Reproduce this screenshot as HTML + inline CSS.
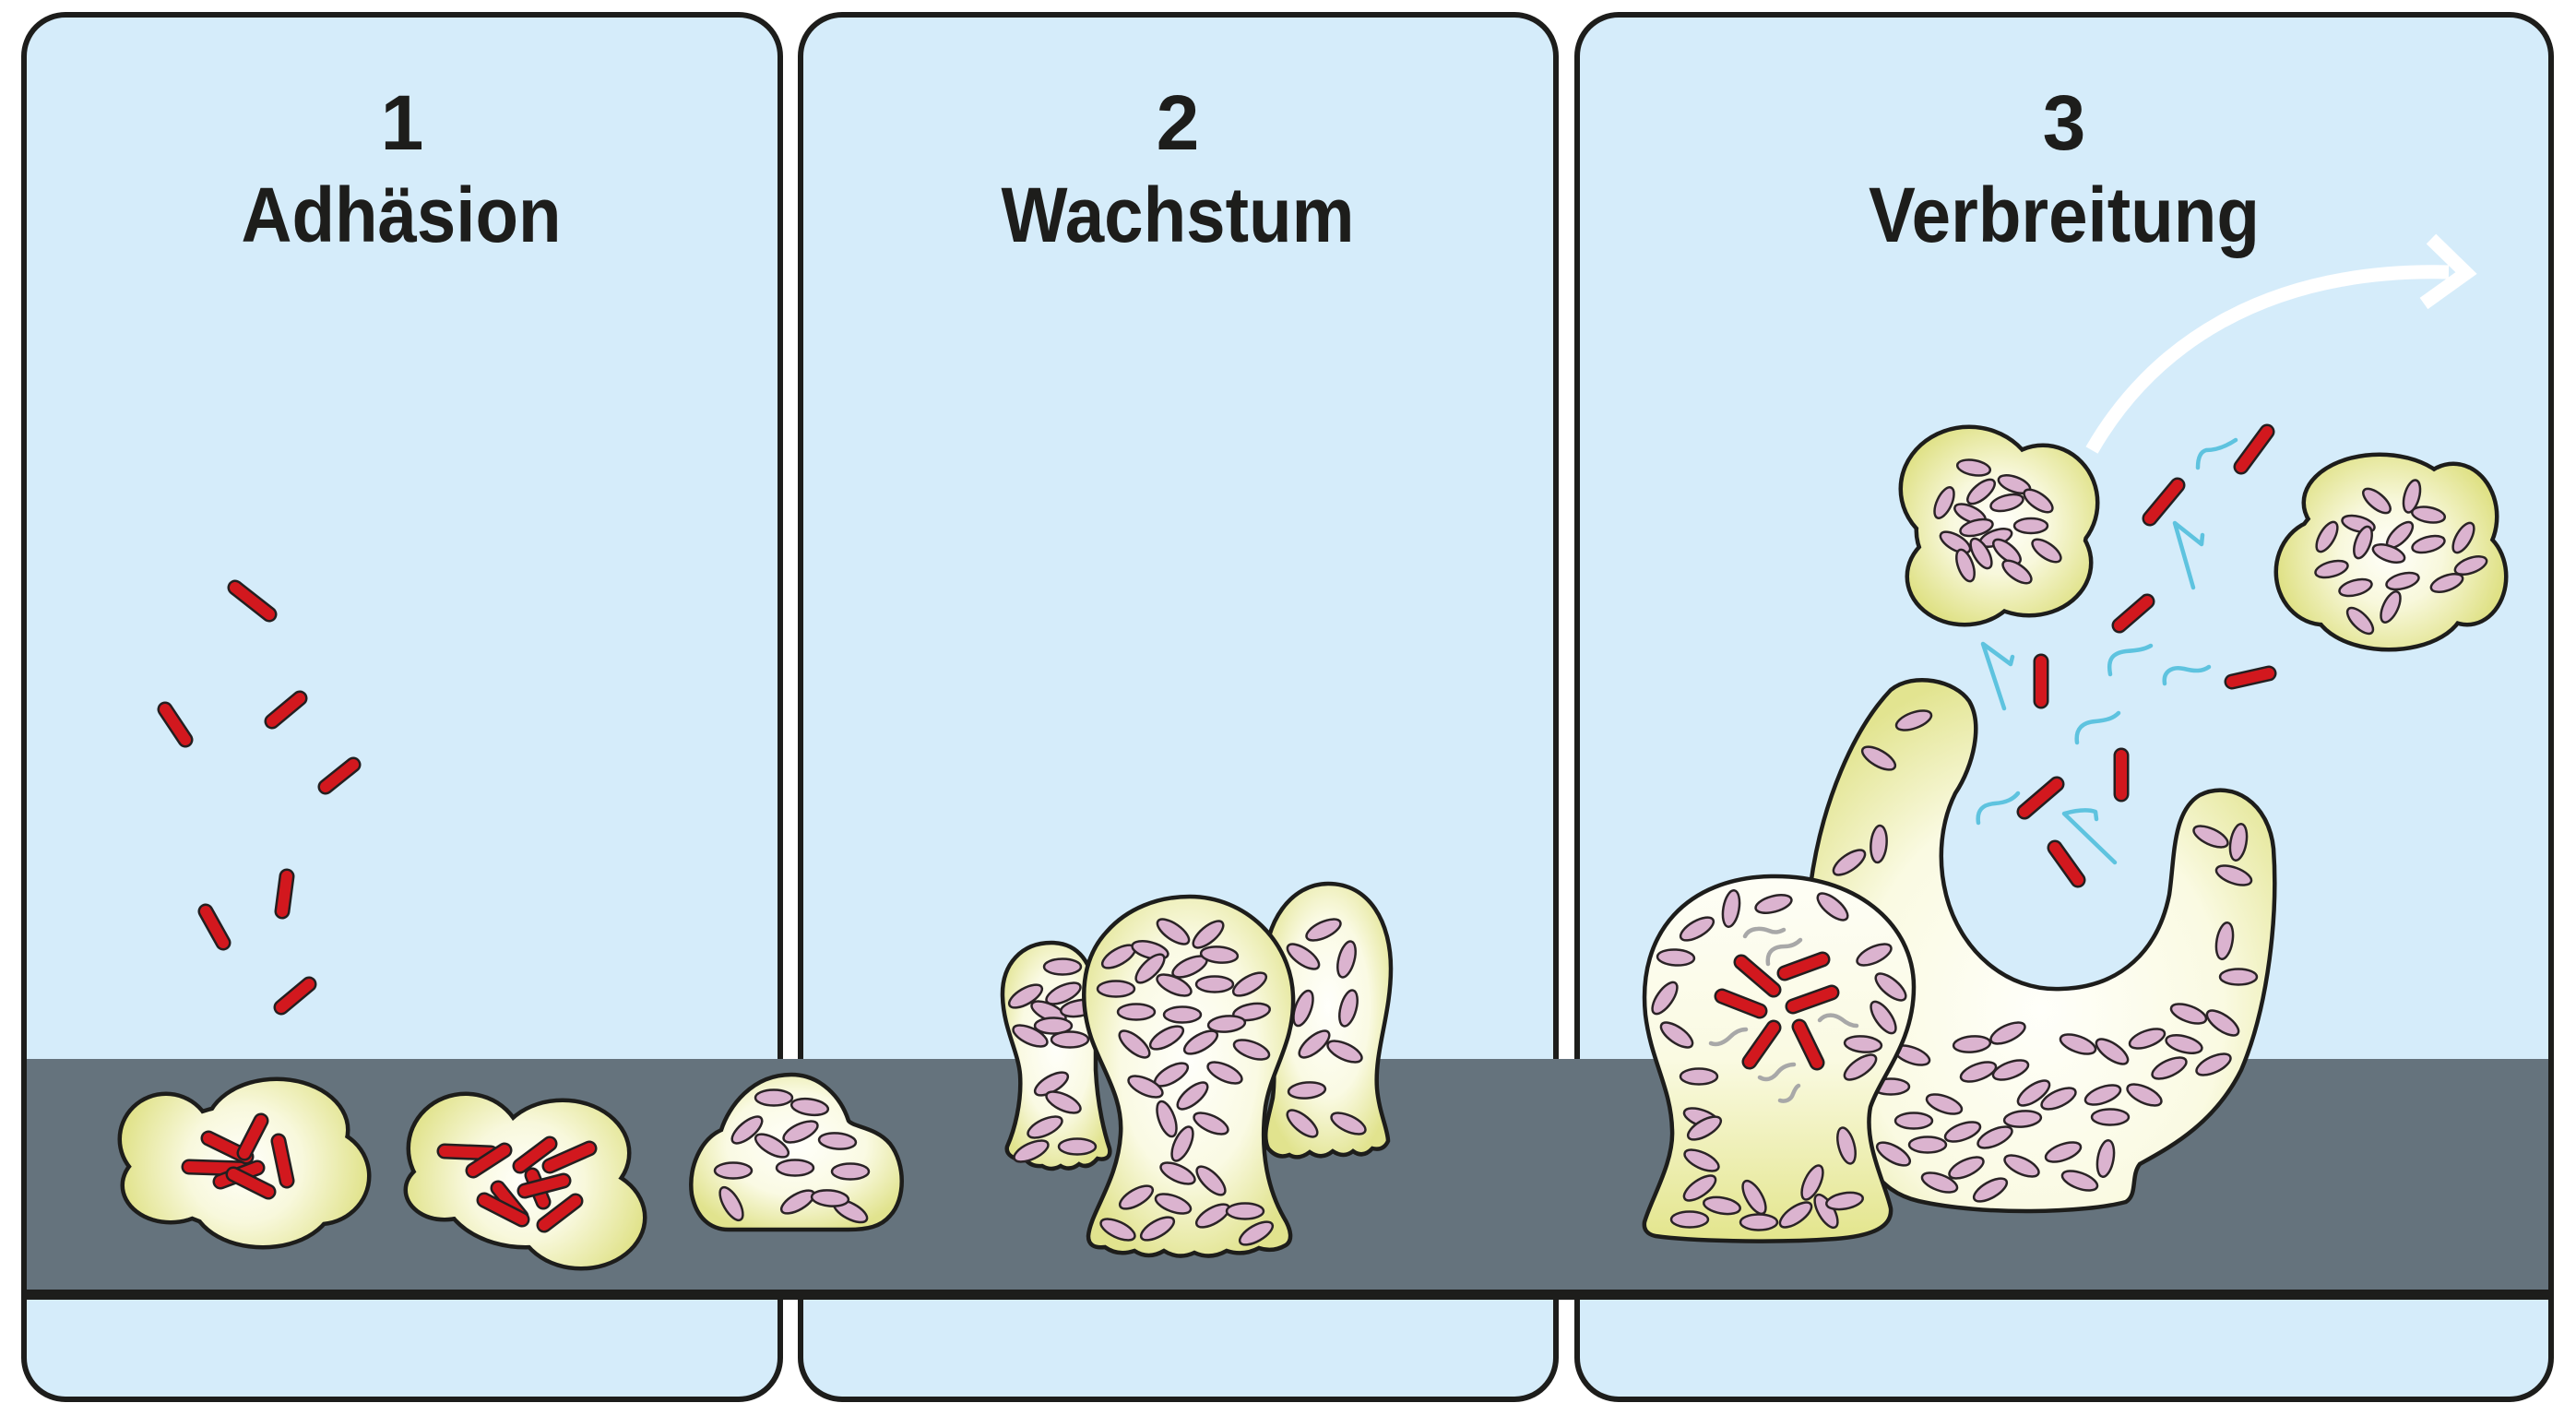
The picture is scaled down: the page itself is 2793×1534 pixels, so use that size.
<!DOCTYPE html>
<html><head><meta charset="utf-8"><style>
html,body{margin:0;padding:0;background:#fff;}
svg{display:block;}
.o{stroke:#231f20;stroke-width:17;stroke-linecap:round;fill:none}
.f{stroke:#d2181e;stroke-width:12;stroke-linecap:round;fill:none}
.bl{stroke:#5ec3df;stroke-width:4.5;fill:none;stroke-linecap:round;stroke-linejoin:round}
.gr{stroke:#a8a8a8;stroke-width:4.5;fill:none;stroke-linecap:round}
.t{font-family:"Liberation Sans",Arial,sans-serif;font-weight:bold;fill:#1d1d1b;text-anchor:middle}
</style></head><body>
<svg width="2793" height="1534" viewBox="0 0 2793 1534" xmlns="http://www.w3.org/2000/svg">
<defs>
<ellipse id="e" rx="20" ry="8.5" fill="#dbb3cf" stroke="#2a2326" stroke-width="2.5"/>
<ellipse id="es" rx="18" ry="8" fill="#dbb3cf" stroke="#2a2326" stroke-width="2.5"/>
<radialGradient id="gb1" gradientUnits="userSpaceOnUse" cx="265" cy="1262" r="140"><stop offset="0" stop-color="#fffffb"/><stop offset=".45" stop-color="#f8f8dc"/><stop offset="1" stop-color="#dfe185"/></radialGradient>
<radialGradient id="gb2" gradientUnits="userSpaceOnUse" cx="570" cy="1280" r="140"><stop offset="0" stop-color="#fffffb"/><stop offset=".45" stop-color="#f8f8dc"/><stop offset="1" stop-color="#dfe185"/></radialGradient>
<radialGradient id="gBL" gradientUnits="userSpaceOnUse" cx="2168" cy="568" r="120"><stop offset="0" stop-color="#fffffb"/><stop offset=".45" stop-color="#f8f8dc"/><stop offset="1" stop-color="#dfe185"/></radialGradient>
<radialGradient id="gBR" gradientUnits="userSpaceOnUse" cx="2592" cy="600" r="125"><stop offset="0" stop-color="#fffffb"/><stop offset=".45" stop-color="#f8f8dc"/><stop offset="1" stop-color="#dfe185"/></radialGradient>
<radialGradient id="gObj" cx=".5" cy=".45" r=".6"><stop offset="0" stop-color="#fffffb"/><stop offset=".55" stop-color="#fafae3"/><stop offset="1" stop-color="#e1e38e"/></radialGradient>
<radialGradient id="gU" cx=".5" cy=".62" r=".65"><stop offset="0" stop-color="#fffffa"/><stop offset=".6" stop-color="#fafae2"/><stop offset="1" stop-color="#e2e490"/></radialGradient>
<linearGradient id="gF" x1="0" y1="0" x2="0" y2="1"><stop offset="0" stop-color="#fefef6"/><stop offset=".5" stop-color="#fafae2"/><stop offset="1" stop-color="#e3e58c"/></linearGradient>
</defs>

<!-- panels -->
<rect x="26" y="16" width="820" height="1501" rx="45" fill="#d5ecfa" stroke="#1d1d1b" stroke-width="6"/>
<rect x="868" y="16" width="819" height="1501" rx="45" fill="#d5ecfa" stroke="#1d1d1b" stroke-width="6"/>
<rect x="1710" y="16" width="1056" height="1501" rx="45" fill="#d5ecfa" stroke="#1d1d1b" stroke-width="6"/>

<!-- ground -->
<rect x="26" y="1148" width="2740" height="250" fill="#65737d"/>
<rect x="23" y="1398" width="2746" height="11" fill="#1d1d1b"/>
<line x1="26" y1="1140" x2="26" y2="1410" stroke="#1d1d1b" stroke-width="6"/>
<line x1="2766" y1="1140" x2="2766" y2="1410" stroke="#1d1d1b" stroke-width="6"/>

<!-- titles -->
<text class="t" x="436" y="162" font-size="84">1</text>
<text class="t" x="435" y="262" font-size="84" textLength="347" lengthAdjust="spacingAndGlyphs">Adhäsion</text>
<text class="t" x="1277" y="162" font-size="84">2</text>
<text class="t" x="1277" y="262" font-size="84" textLength="383" lengthAdjust="spacingAndGlyphs">Wachstum</text>
<text class="t" x="2238" y="162" font-size="84">3</text>
<text class="t" x="2238" y="262" font-size="84" textLength="424" lengthAdjust="spacingAndGlyphs">Verbreitung</text>

<!-- ===== Panel 1 ===== -->
<line class="o" x1="255" y1="637" x2="292" y2="666"/><line class="f" x1="255" y1="637" x2="292" y2="666"/>
<line class="o" x1="179" y1="769" x2="201" y2="802"/><line class="f" x1="179" y1="769" x2="201" y2="802"/>
<line class="o" x1="295" y1="782" x2="325" y2="757"/><line class="f" x1="295" y1="782" x2="325" y2="757"/>
<line class="o" x1="353" y1="853" x2="383" y2="829"/><line class="f" x1="353" y1="853" x2="383" y2="829"/>
<line class="o" x1="311" y1="950" x2="306" y2="988"/><line class="f" x1="311" y1="950" x2="306" y2="988"/>
<line class="o" x1="223" y1="988" x2="242" y2="1022"/><line class="f" x1="223" y1="988" x2="242" y2="1022"/>
<line class="o" x1="305" y1="1092" x2="335" y2="1067"/><line class="f" x1="305" y1="1092" x2="335" y2="1067"/>

<!-- blob 1 -->
<g fill="none" stroke="#1d1d1b" stroke-width="9">
<ellipse cx="180" cy="1235" rx="48" ry="47"/><ellipse cx="300" cy="1225" rx="75" ry="53"/><ellipse cx="345" cy="1275" rx="53" ry="50"/><ellipse cx="285" cy="1300" rx="75" ry="50"/><ellipse cx="185" cy="1285" rx="50" ry="38"/><ellipse cx="265" cy="1265" rx="100" ry="65"/>
</g>
<g fill="url(#gb1)">
<ellipse cx="180" cy="1235" rx="48" ry="47"/><ellipse cx="300" cy="1225" rx="75" ry="53"/><ellipse cx="345" cy="1275" rx="53" ry="50"/><ellipse cx="285" cy="1300" rx="75" ry="50"/><ellipse cx="185" cy="1285" rx="50" ry="38"/><ellipse cx="265" cy="1265" rx="100" ry="65"/>
</g>
<line class="o" x1="205" y1="1265" x2="266" y2="1267"/><line class="f" x1="205" y1="1265" x2="266" y2="1267"/>
<line class="o" x1="226" y1="1234" x2="267" y2="1254"/><line class="f" x1="226" y1="1234" x2="267" y2="1254"/>
<line class="o" x1="283" y1="1215" x2="265" y2="1250"/><line class="f" x1="283" y1="1215" x2="265" y2="1250"/>
<line class="o" x1="302" y1="1237" x2="311" y2="1280"/><line class="f" x1="302" y1="1237" x2="311" y2="1280"/>
<line class="o" x1="239" y1="1281" x2="279" y2="1266"/><line class="f" x1="239" y1="1281" x2="279" y2="1266"/>
<line class="o" x1="253" y1="1273" x2="291" y2="1292"/><line class="f" x1="253" y1="1273" x2="291" y2="1292"/>

<!-- blob 2 -->
<g fill="none" stroke="#1d1d1b" stroke-width="9">
<ellipse cx="505" cy="1245" rx="60" ry="57"/><ellipse cx="610" cy="1250" rx="70" ry="55"/><ellipse cx="630" cy="1320" rx="67" ry="53"/><ellipse cx="482" cy="1290" rx="40" ry="30"/><ellipse cx="570" cy="1285" rx="90" ry="65"/>
</g>
<g fill="url(#gb2)">
<ellipse cx="505" cy="1245" rx="60" ry="57"/><ellipse cx="610" cy="1250" rx="70" ry="55"/><ellipse cx="630" cy="1320" rx="67" ry="53"/><ellipse cx="482" cy="1290" rx="40" ry="30"/><ellipse cx="570" cy="1285" rx="90" ry="65"/>
</g>
<line class="o" x1="482" y1="1248" x2="532" y2="1250"/><line class="f" x1="482" y1="1248" x2="532" y2="1250"/>
<line class="o" x1="513" y1="1269" x2="547" y2="1247"/><line class="f" x1="513" y1="1269" x2="547" y2="1247"/>
<line class="o" x1="564" y1="1264" x2="596" y2="1240"/><line class="f" x1="564" y1="1264" x2="596" y2="1240"/>
<line class="o" x1="596" y1="1264" x2="639" y2="1245"/><line class="f" x1="596" y1="1264" x2="639" y2="1245"/>
<line class="o" x1="577" y1="1274" x2="589" y2="1303"/><line class="f" x1="577" y1="1274" x2="589" y2="1303"/>
<line class="o" x1="540" y1="1288" x2="565" y2="1319"/><line class="f" x1="540" y1="1288" x2="565" y2="1319"/>
<line class="o" x1="525" y1="1301" x2="566" y2="1322"/><line class="f" x1="525" y1="1301" x2="566" y2="1322"/>
<line class="o" x1="569" y1="1291" x2="611" y2="1280"/><line class="f" x1="569" y1="1291" x2="611" y2="1280"/>
<line class="o" x1="590" y1="1328" x2="624" y2="1302"/><line class="f" x1="590" y1="1328" x2="624" y2="1302"/>

<!-- blob 3 (bell) -->
<path d="M858,1165 C890,1165 912,1190 920,1215 C925,1222 950,1222 965,1240 C982,1262 982,1300 965,1318 C955,1330 940,1333 920,1333 L790,1333 C770,1333 755,1320 750,1295 C746,1265 760,1235 782,1225 C790,1200 815,1165 858,1165 Z" fill="url(#gObj)" stroke="#1d1d1b" stroke-width="4.5"/>
<use href="#e" transform="translate(839,1190) rotate(0)"/>
<use href="#e" transform="translate(878,1200) rotate(8)"/>
<use href="#e" transform="translate(810,1225) rotate(-40)"/>
<use href="#e" transform="translate(868,1227) rotate(-25)"/>
<use href="#e" transform="translate(837,1242) rotate(30)"/>
<use href="#e" transform="translate(908,1237) rotate(5)"/>
<use href="#e" transform="translate(795,1269) rotate(0)"/>
<use href="#e" transform="translate(862,1266) rotate(0)"/>
<use href="#e" transform="translate(922,1270) rotate(0)"/>
<use href="#e" transform="translate(793,1305) rotate(60)"/>
<use href="#e" transform="translate(865,1303) rotate(-30)"/>
<use href="#e" transform="translate(922,1313) rotate(28)"/>
<use href="#e" transform="translate(900,1299) rotate(5)"/>

<!-- ===== Panel 2 ===== -->
<path d="M1092,1243 C1100,1225 1108,1195 1106,1165 C1104,1140 1088,1115 1087,1080 C1086,1045 1108,1022 1140,1022 C1170,1022 1185,1045 1188,1080 L1188,1160 C1190,1200 1198,1230 1203,1245 C1205,1255 1198,1258 1190,1256 Q1180,1268 1170,1262 Q1160,1270 1150,1264 Q1140,1270 1130,1264 Q1118,1265 1112,1257 C1100,1258 1090,1252 1092,1243 Z" fill="url(#gObj)" stroke="#1d1d1b" stroke-width="4.5"/>
<use href="#e" transform="translate(1152,1048) rotate(0)"/>
<use href="#e" transform="translate(1112,1080) rotate(-30)"/>
<use href="#e" transform="translate(1153,1077) rotate(-25)"/>
<use href="#e" transform="translate(1137,1097) rotate(25)"/>
<use href="#e" transform="translate(1170,1093) rotate(-10)"/>
<use href="#e" transform="translate(1142,1112) rotate(0)"/>
<use href="#e" transform="translate(1117,1123) rotate(25)"/>
<use href="#e" transform="translate(1160,1127) rotate(0)"/>
<use href="#e" transform="translate(1140,1175) rotate(-30)"/>
<use href="#e" transform="translate(1153,1195) rotate(25)"/>
<use href="#e" transform="translate(1133,1222) rotate(-25)"/>
<use href="#e" transform="translate(1168,1243) rotate(0)"/>
<use href="#e" transform="translate(1118,1248) rotate(-25)"/>
<path d="M1440,958 C1485,958 1508,1000 1508,1050 C1508,1100 1490,1140 1493,1180 C1495,1205 1505,1225 1505,1237 Q1500,1248 1488,1245 Q1478,1256 1467,1248 Q1457,1256 1445,1248 Q1433,1258 1420,1249 Q1408,1258 1398,1252 Q1385,1257 1375,1245 C1368,1230 1376,1210 1380,1190 C1385,1150 1375,1100 1372,1050 C1370,1000 1400,958 1440,958 Z" fill="url(#gObj)" stroke="#1d1d1b" stroke-width="4.5"/>
<use href="#e" transform="translate(1435,1008) rotate(-25)"/>
<use href="#e" transform="translate(1413,1037) rotate(35)"/>
<use href="#e" transform="translate(1460,1040) rotate(-75)"/>
<use href="#e" transform="translate(1413,1093) rotate(-70)"/>
<use href="#e" transform="translate(1462,1093) rotate(-75)"/>
<use href="#e" transform="translate(1425,1132) rotate(-40)"/>
<use href="#e" transform="translate(1458,1140) rotate(25)"/>
<use href="#e" transform="translate(1417,1182) rotate(-5)"/>
<use href="#e" transform="translate(1412,1218) rotate(40)"/>
<use href="#e" transform="translate(1462,1218) rotate(25)"/>
<path d="M1290,972 C1350,972 1400,1020 1402,1080 C1404,1130 1378,1160 1372,1200 C1366,1250 1375,1290 1392,1320 C1400,1333 1402,1345 1394,1350 Q1380,1358 1365,1353 Q1348,1362 1330,1356 Q1312,1366 1295,1358 Q1278,1366 1262,1356 Q1245,1366 1230,1356 Q1212,1362 1198,1352 Q1180,1354 1180,1340 C1182,1315 1212,1280 1215,1230 C1218,1190 1195,1160 1183,1125 C1170,1085 1172,1040 1200,1010 C1222,985 1255,972 1290,972 Z" fill="url(#gObj)" stroke="#1d1d1b" stroke-width="4.5"/>
<use href="#e" transform="translate(1272,1010) rotate(35)"/>
<use href="#e" transform="translate(1310,1013) rotate(-40)"/>
<use href="#e" transform="translate(1213,1037) rotate(-30)"/>
<use href="#e" transform="translate(1247,1030) rotate(15)"/>
<use href="#e" transform="translate(1247,1050) rotate(-45)"/>
<use href="#e" transform="translate(1290,1048) rotate(-25)"/>
<use href="#e" transform="translate(1322,1035) rotate(5)"/>
<use href="#e" transform="translate(1273,1068) rotate(25)"/>
<use href="#e" transform="translate(1317,1067) rotate(0)"/>
<use href="#e" transform="translate(1355,1067) rotate(-30)"/>
<use href="#e" transform="translate(1210,1072) rotate(0)"/>
<use href="#e" transform="translate(1232,1097) rotate(0)"/>
<use href="#e" transform="translate(1282,1100) rotate(0)"/>
<use href="#e" transform="translate(1357,1097) rotate(-10)"/>
<use href="#e" transform="translate(1330,1110) rotate(-5)"/>
<use href="#e" transform="translate(1230,1132) rotate(40)"/>
<use href="#e" transform="translate(1265,1125) rotate(-30)"/>
<use href="#e" transform="translate(1302,1130) rotate(-30)"/>
<use href="#e" transform="translate(1357,1138) rotate(20)"/>
<use href="#e" transform="translate(1270,1165) rotate(-30)"/>
<use href="#e" transform="translate(1328,1163) rotate(25)"/>
<use href="#e" transform="translate(1242,1178) rotate(25)"/>
<use href="#e" transform="translate(1293,1188) rotate(-40)"/>
<use href="#e" transform="translate(1265,1213) rotate(70)"/>
<use href="#e" transform="translate(1313,1218) rotate(25)"/>
<use href="#e" transform="translate(1282,1240) rotate(-65)"/>
<use href="#e" transform="translate(1277,1272) rotate(25)"/>
<use href="#e" transform="translate(1313,1280) rotate(45)"/>
<use href="#e" transform="translate(1232,1298) rotate(-30)"/>
<use href="#e" transform="translate(1272,1305) rotate(20)"/>
<use href="#e" transform="translate(1315,1318) rotate(-30)"/>
<use href="#e" transform="translate(1350,1313) rotate(0)"/>
<use href="#e" transform="translate(1212,1333) rotate(25)"/>
<use href="#e" transform="translate(1255,1332) rotate(-30)"/>
<use href="#e" transform="translate(1362,1337) rotate(-30)"/>

<!-- ===== Panel 3 ===== -->
<path d="M2268,488 C2330,380 2450,290 2655,295" stroke="#fff" stroke-width="15" fill="none"/>
<polyline points="2636,259 2674,296 2628,329" stroke="#fff" stroke-width="15" fill="none" stroke-linejoin="miter"/>

<g fill="none" stroke="#1d1d1b" stroke-width="9">
<ellipse cx="2135" cy="530" rx="72" ry="65"/><ellipse cx="2215" cy="545" rx="57" ry="60"/><ellipse cx="2130" cy="625" rx="60" ry="50"/><ellipse cx="2200" cy="610" rx="65" ry="55"/><ellipse cx="2170" cy="575" rx="90" ry="70"/>
</g>
<g fill="url(#gBL)">
<ellipse cx="2135" cy="530" rx="72" ry="65"/><ellipse cx="2215" cy="545" rx="57" ry="60"/><ellipse cx="2130" cy="625" rx="60" ry="50"/><ellipse cx="2200" cy="610" rx="65" ry="55"/><ellipse cx="2170" cy="575" rx="90" ry="70"/>
</g>
<use href="#es" transform="translate(2140,507) rotate(10)"/>
<use href="#es" transform="translate(2108,545) rotate(-65)"/>
<use href="#es" transform="translate(2148,533) rotate(-40)"/>
<use href="#es" transform="translate(2184,525) rotate(20)"/>
<use href="#es" transform="translate(2176,545) rotate(-15)"/>
<use href="#es" transform="translate(2210,543) rotate(35)"/>
<use href="#es" transform="translate(2136,557) rotate(25)"/>
<use href="#es" transform="translate(2143,572) rotate(-15)"/>
<use href="#es" transform="translate(2202,570) rotate(0)"/>
<use href="#es" transform="translate(2120,588) rotate(30)"/>
<use href="#es" transform="translate(2164,583) rotate(-20)"/>
<use href="#es" transform="translate(2148,600) rotate(60)"/>
<use href="#es" transform="translate(2176,598) rotate(40)"/>
<use href="#es" transform="translate(2219,597) rotate(35)"/>
<use href="#es" transform="translate(2131,613) rotate(70)"/>
<use href="#es" transform="translate(2187,620) rotate(35)"/>

<g fill="none" stroke="#1d1d1b" stroke-width="9">
<ellipse cx="2580" cy="545" rx="80" ry="50"/><ellipse cx="2660" cy="560" rx="45" ry="55"/><ellipse cx="2520" cy="620" rx="50" ry="55"/><ellipse cx="2675" cy="625" rx="40" ry="50"/><ellipse cx="2590" cy="655" rx="80" ry="47"/><ellipse cx="2590" cy="600" rx="100" ry="70"/>
</g>
<g fill="url(#gBR)">
<ellipse cx="2580" cy="545" rx="80" ry="50"/><ellipse cx="2660" cy="560" rx="45" ry="55"/><ellipse cx="2520" cy="620" rx="50" ry="55"/><ellipse cx="2675" cy="625" rx="40" ry="50"/><ellipse cx="2590" cy="655" rx="80" ry="47"/><ellipse cx="2590" cy="600" rx="100" ry="70"/>
</g>
<use href="#es" transform="translate(2577,543) rotate(40)"/>
<use href="#es" transform="translate(2615,538) rotate(-75)"/>
<use href="#es" transform="translate(2633,558) rotate(10)"/>
<use href="#es" transform="translate(2557,568) rotate(15)"/>
<use href="#es" transform="translate(2523,582) rotate(-60)"/>
<use href="#es" transform="translate(2562,588) rotate(-70)"/>
<use href="#es" transform="translate(2602,580) rotate(-45)"/>
<use href="#es" transform="translate(2633,590) rotate(-15)"/>
<use href="#es" transform="translate(2671,583) rotate(-60)"/>
<use href="#es" transform="translate(2590,600) rotate(20)"/>
<use href="#es" transform="translate(2528,617) rotate(-15)"/>
<use href="#es" transform="translate(2679,613) rotate(-20)"/>
<use href="#es" transform="translate(2605,630) rotate(-15)"/>
<use href="#es" transform="translate(2653,632) rotate(-20)"/>
<use href="#es" transform="translate(2554,637) rotate(-15)"/>
<use href="#es" transform="translate(2592,658) rotate(-65)"/>
<use href="#es" transform="translate(2559,673) rotate(45)"/>

<!-- U structure -->
<path d="M1963,960 C1975,870 2010,790 2050,748 C2075,728 2120,738 2135,760 C2150,785 2140,830 2120,860 C2105,890 2100,930 2110,970 C2125,1030 2175,1075 2235,1072 C2300,1070 2340,1030 2352,970 C2358,930 2355,880 2385,862 C2420,845 2460,870 2465,920 C2470,990 2460,1090 2430,1160 C2400,1220 2350,1245 2320,1262 C2310,1275 2318,1295 2305,1303 C2260,1315 2150,1318 2080,1302 C2050,1295 2040,1280 2020,1260 L1960,1200 Z" fill="url(#gU)" stroke="#1d1d1b" stroke-width="4.5"/>
<use href="#e" transform="translate(2075,781) rotate(-20)"/>
<use href="#e" transform="translate(2037,822) rotate(30)"/>
<use href="#e" transform="translate(2037,915) rotate(-85)"/>
<use href="#e" transform="translate(2005,935) rotate(-35)"/>
<use href="#e" transform="translate(2397,907) rotate(25)"/>
<use href="#e" transform="translate(2427,913) rotate(-80)"/>
<use href="#e" transform="translate(2422,949) rotate(20)"/>
<use href="#e" transform="translate(2412,1020) rotate(-80)"/>
<use href="#e" transform="translate(2427,1059) rotate(0)"/>
<use href="#e" transform="translate(2373,1099) rotate(20)"/>
<use href="#e" transform="translate(2410,1109) rotate(35)"/>
<use href="#e" transform="translate(2138,1132) rotate(-5)"/>
<use href="#e" transform="translate(2177,1120) rotate(-25)"/>
<use href="#e" transform="translate(2253,1132) rotate(20)"/>
<use href="#e" transform="translate(2290,1140) rotate(35)"/>
<use href="#e" transform="translate(2328,1126) rotate(-20)"/>
<use href="#e" transform="translate(2368,1132) rotate(15)"/>
<use href="#e" transform="translate(2400,1154) rotate(-25)"/>
<use href="#e" transform="translate(2352,1158) rotate(-25)"/>
<use href="#e" transform="translate(2145,1162) rotate(-20)"/>
<use href="#e" transform="translate(2180,1160) rotate(-20)"/>
<use href="#e" transform="translate(2073,1144) rotate(20)"/>
<use href="#e" transform="translate(2050,1178) rotate(0)"/>
<use href="#e" transform="translate(2205,1185) rotate(-35)"/>
<use href="#e" transform="translate(2232,1191) rotate(-25)"/>
<use href="#e" transform="translate(2280,1187) rotate(-20)"/>
<use href="#e" transform="translate(2325,1187) rotate(25)"/>
<use href="#e" transform="translate(2108,1197) rotate(20)"/>
<use href="#e" transform="translate(2193,1213) rotate(-5)"/>
<use href="#e" transform="translate(2288,1211) rotate(0)"/>
<use href="#e" transform="translate(2075,1215) rotate(0)"/>
<use href="#e" transform="translate(2128,1227) rotate(-20)"/>
<use href="#e" transform="translate(2163,1233) rotate(-25)"/>
<use href="#e" transform="translate(2090,1241) rotate(0)"/>
<use href="#e" transform="translate(2053,1251) rotate(30)"/>
<use href="#e" transform="translate(2132,1266) rotate(-25)"/>
<use href="#e" transform="translate(2192,1264) rotate(25)"/>
<use href="#e" transform="translate(2237,1249) rotate(-20)"/>
<use href="#e" transform="translate(2283,1256) rotate(-80)"/>
<use href="#e" transform="translate(2103,1282) rotate(20)"/>
<use href="#e" transform="translate(2158,1290) rotate(-30)"/>
<use href="#e" transform="translate(2255,1280) rotate(20)"/>

<!-- sky rods -->
<line class="o" x1="2458" y1="468" x2="2430" y2="506"/><line class="f" x1="2458" y1="468" x2="2430" y2="506"/>
<line class="o" x1="2361" y1="526" x2="2331" y2="562"/><line class="f" x1="2361" y1="526" x2="2331" y2="562"/>
<line class="o" x1="2328" y1="652" x2="2298" y2="678"/><line class="f" x1="2328" y1="652" x2="2298" y2="678"/>
<line class="o" x1="2213" y1="717" x2="2213" y2="760"/><line class="f" x1="2213" y1="717" x2="2213" y2="760"/>
<line class="o" x1="2460" y1="730" x2="2420" y2="739"/><line class="f" x1="2460" y1="730" x2="2420" y2="739"/>
<line class="o" x1="2300" y1="819" x2="2300" y2="861"/><line class="f" x1="2300" y1="819" x2="2300" y2="861"/>
<line class="o" x1="2230" y1="850" x2="2195" y2="880"/><line class="f" x1="2230" y1="850" x2="2195" y2="880"/>
<line class="o" x1="2228" y1="919" x2="2253" y2="954"/><line class="f" x1="2228" y1="919" x2="2253" y2="954"/>

<!-- blue squiggles -->
<path class="bl" d="M2424,477 C2412,485 2402,488 2392,488 C2385,490 2383,498 2383,507"/>
<path class="bl" d="M2378,637 L2358,567 L2387,590 L2388,580"/>
<path class="bl" d="M2173,768 L2150,698 L2180,720 L2182,712"/>
<path class="bl" d="M2288,731 C2285,715 2290,708 2305,706 C2318,705 2325,704 2332,700"/>
<path class="bl" d="M2347,741 C2345,728 2355,722 2368,725 C2380,728 2388,728 2395,723"/>
<path class="bl" d="M2252,805 C2250,790 2258,783 2272,782 C2285,781 2292,778 2297,773"/>
<path class="bl" d="M2145,892 C2143,878 2150,872 2163,871 C2176,870 2183,866 2188,860"/>
<path class="bl" d="M2293,935 L2238,882 Q2260,876 2272,880 L2273,888"/>

<!-- front mushroom -->
<path d="M1783,1325 C1790,1300 1815,1260 1813,1225 C1812,1180 1790,1150 1784,1100 C1775,1010 1830,952 1920,950 C2010,948 2075,1000 2075,1070 C2075,1130 2040,1165 2028,1200 C2020,1240 2045,1285 2050,1310 C2052,1330 2030,1340 1990,1343 C1920,1348 1830,1345 1795,1340 C1785,1338 1782,1332 1783,1325 Z" fill="url(#gF)" stroke="#1d1d1b" stroke-width="4.5"/>
<use href="#e" transform="translate(1877,985) rotate(-80)"/>
<use href="#e" transform="translate(1923,980) rotate(-15)"/>
<use href="#e" transform="translate(1987,983) rotate(40)"/>
<use href="#e" transform="translate(1840,1007) rotate(-30)"/>
<use href="#e" transform="translate(1817,1038) rotate(3)"/>
<use href="#e" transform="translate(2032,1035) rotate(-25)"/>
<use href="#e" transform="translate(1805,1082) rotate(-55)"/>
<use href="#e" transform="translate(2050,1070) rotate(40)"/>
<use href="#e" transform="translate(1818,1122) rotate(35)"/>
<use href="#e" transform="translate(2042,1103) rotate(55)"/>
<use href="#e" transform="translate(2020,1132) rotate(5)"/>
<use href="#e" transform="translate(2017,1157) rotate(-35)"/>
<use href="#e" transform="translate(1842,1167) rotate(0)"/>
<use href="#e" transform="translate(1845,1212) rotate(20)"/>
<use href="#e" transform="translate(1848,1223) rotate(-30)"/>
<use href="#e" transform="translate(2002,1242) rotate(75)"/>
<use href="#e" transform="translate(1845,1258) rotate(25)"/>
<use href="#e" transform="translate(1843,1288) rotate(-35)"/>
<use href="#e" transform="translate(1867,1307) rotate(10)"/>
<use href="#e" transform="translate(1902,1298) rotate(60)"/>
<use href="#e" transform="translate(1832,1322) rotate(0)"/>
<use href="#e" transform="translate(1907,1325) rotate(0)"/>
<use href="#e" transform="translate(1947,1317) rotate(-35)"/>
<use href="#e" transform="translate(1965,1282) rotate(-65)"/>
<use href="#e" transform="translate(1980,1313) rotate(60)"/>
<use href="#e" transform="translate(2000,1302) rotate(-10)"/>
<path class="gr" d="M1892,1015 C1897,1005 1910,1006 1918,1009 C1925,1012 1930,1010 1934,1008"/>
<path class="gr" d="M1917,1045 C1915,1030 1925,1026 1935,1026 C1943,1026 1948,1023 1952,1019"/>
<path class="gr" d="M1973,1106 C1980,1098 1990,1100 1997,1105 C2003,1110 2008,1112 2013,1112"/>
<path class="gr" d="M1855,1131 C1862,1134 1870,1130 1876,1124 C1882,1118 1888,1116 1893,1116"/>
<path class="gr" d="M1908,1168 C1915,1172 1922,1170 1928,1162 C1933,1156 1940,1154 1945,1154"/>
<path class="gr" d="M1930,1193 C1936,1195 1942,1192 1944,1186 C1946,1181 1948,1178 1950,1177"/>
<line class="o" x1="1888" y1="1043" x2="1923" y2="1073"/><line class="f" x1="1888" y1="1043" x2="1923" y2="1073"/>
<line class="o" x1="1935" y1="1055" x2="1976" y2="1040"/><line class="f" x1="1935" y1="1055" x2="1976" y2="1040"/>
<line class="o" x1="1867" y1="1080" x2="1908" y2="1096"/><line class="f" x1="1867" y1="1080" x2="1908" y2="1096"/>
<line class="o" x1="1944" y1="1091" x2="1986" y2="1076"/><line class="f" x1="1944" y1="1091" x2="1986" y2="1076"/>
<line class="o" x1="1923" y1="1114" x2="1897" y2="1151"/><line class="f" x1="1923" y1="1114" x2="1897" y2="1151"/>
<line class="o" x1="1951" y1="1113" x2="1970" y2="1152"/><line class="f" x1="1951" y1="1113" x2="1970" y2="1152"/>
</svg>
</body></html>
